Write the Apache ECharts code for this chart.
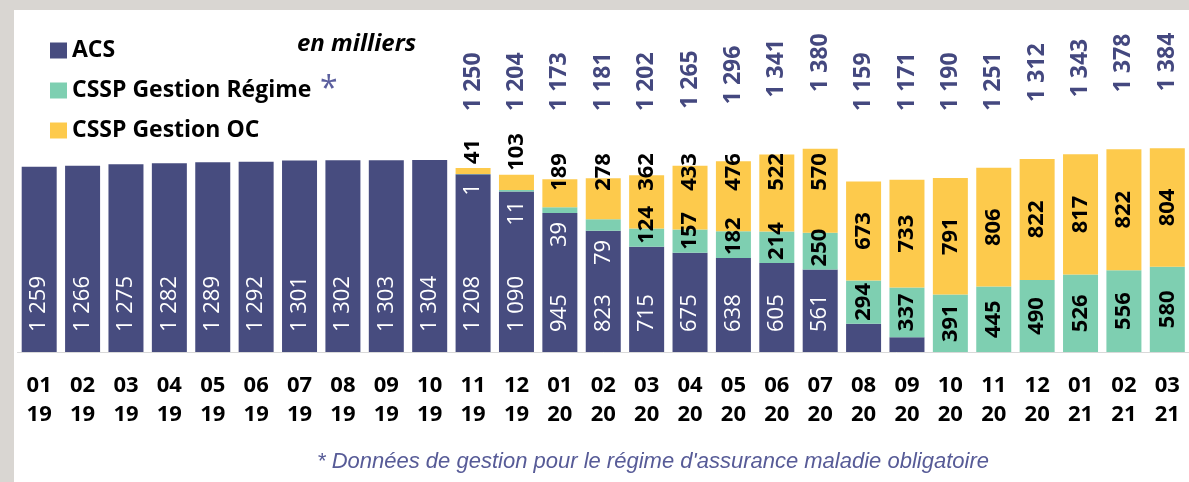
<!DOCTYPE html>
<html>
<head>
<meta charset="utf-8">
<script src="https://cdn.jsdelivr.net/npm/echarts@6/dist/echarts.min.js"></script>
<style>
html, body { margin: 0; padding: 0; background: #d9d6d2; }
#chart { position: absolute; left: 14px; top: 10px; width: 1175px; height: 472px; background: #fff; }
</style>
</head>
<body>
<div id="chart"></div>
<script>
// mois / années
var months = ['01','02','03','04','05','06','07','08','09','10','11','12',
              '01','02','03','04','05','06','07','08','09','10','11','12',
              '01','02','03'];
var years  = ['19','19','19','19','19','19','19','19','19','19','19','19',
              '20','20','20','20','20','20','20','20','20','20','20','20',
              '21','21','21'];

// effectifs en milliers
var acs    = [1259,1266,1275,1282,1289,1292,1301,1302,1303,1304,1208,1090,
              945,823,715,675,638,605,561,192,101,0,0,0,0,0,0];
var regime = [0,0,0,0,0,0,0,0,0,0,1,11,
              39,79,124,157,182,214,250,294,337,391,445,490,526,556,580];
var oc     = [0,0,0,0,0,0,0,0,0,0,41,103,
              189,278,362,433,476,522,570,673,733,791,806,822,817,822,804];
var totals = [null,null,null,null,null,null,null,null,null,null,1250,1204,
              1173,1181,1202,1265,1296,1341,1380,1159,1171,1190,1251,1312,1343,1378,1384];

var categories = months.map(function (m, i) { return m + '\n' + years[i]; });

function fmt(v) {
    if (v >= 1000) return Math.floor(v / 1000) + ' ' + String(v % 1000).padStart(3, '0');
    return String(v);
}

var FONT = '"Open Sans", sans-serif';

var myChart = echarts.init(document.getElementById('chart'));

var option = {
    animation: false,
    color: ['#474c7f', '#7ecfb1', '#fdca4c'],
    legend: {
        data: ['ACS', 'CSSP Gestion Régime', 'CSSP Gestion OC'],
        orient: 'vertical',
        left: 31,
        top: 24,
        icon: 'rect',
        itemWidth: 17,
        itemHeight: 16,
        itemGap: 17,
        selectedMode: false,
        textStyle: { fontSize: 23, fontWeight: 'bold', fontFamily: FONT, color: '#000' }
    },
    grid: { left: 3.5, width: 1174.5, top: 106.5, bottom: 130 },
    xAxis: {
        type: 'category',
        data: categories,
        axisTick: { show: false },
        axisLine: { lineStyle: { color: '#d9d9d9', width: 1 } },
        axisLabel: {
            interval: 0,
            margin: 19,
            fontSize: 22,
            lineHeight: 29,
            fontWeight: 'bold',
            fontFamily: FONT,
            color: '#000'
        }
    },
    yAxis: { type: 'value', min: 0, max: 1600, show: false, splitLine: { show: false } },
    graphic: [
        { type: 'text', left: 283, top: 22,
          style: { text: 'en milliers', fontSize: 24, fontWeight: 'bold', fontStyle: 'italic',
                   fontFamily: FONT, fill: '#000' } },
        { type: 'text', left: 306, top: 64,
          style: { text: '*', fontSize: 32, fontFamily: FONT, fill: '#5b5f9e' } },
        { type: 'text', left: 303, top: 441,
          style: { text: "* Données de gestion pour le régime d'assurance maladie obligatoire",
                   fontSize: 22, fontStyle: 'italic', fontFamily: '"Liberation Sans", Arial, sans-serif',
                   fill: '#575b97' } }
    ],
    series: [
        {
            name: 'ACS',
            type: 'bar',
            stack: 'total',
            barWidth: 35,
            data: acs.map(function (v) {
                return { value: v, label: { show: v > 300 } };
            }),
            label: {
                position: 'insideBottom',
                distance: 20,
                rotate: 90,
                align: 'left',
                verticalAlign: 'middle',
                color: '#fff',
                fontSize: 22,
                fontFamily: FONT,
                formatter: function (p) { return fmt(p.value); }
            }
        },
        {
            name: 'CSSP Gestion Régime',
            type: 'bar',
            stack: 'total',
            data: regime.map(function (v) {
                return { value: v, label: v < 100
                    ? { show: v > 0, color: '#fff', fontWeight: 'normal' }
                    : { show: true } };
            }),
            label: {
                position: 'inside',
                rotate: 90,
                color: '#000',
                fontSize: 22,
                fontWeight: 'bold',
                fontFamily: FONT,
                formatter: function (p) { return fmt(p.value); }
            },
            labelLayout: function (p) {
                var r = p.rect, len = p.labelRect.height;
                var v = regime[p.dataIndex];
                var cy;
                if (v < 100) cy = r.y + r.height + 9 + len / 2;
                else if (r.height < len + 6) cy = r.y + r.height - 3 - len / 2;
                else cy = r.y + r.height / 2;
                return { x: r.x + r.width / 2, y: cy, align: 'center', verticalAlign: 'middle' };
            }
        },
        {
            name: 'CSSP Gestion OC',
            type: 'bar',
            stack: 'total',
            data: oc.map(function (v) {
                return { value: v, label: { show: v > 0 } };
            }),
            label: {
                position: 'inside',
                rotate: 90,
                color: '#000',
                fontSize: 22,
                fontWeight: 'bold',
                fontFamily: FONT,
                formatter: function (p) { return fmt(p.value); }
            },
            labelLayout: function (p) {
                var r = p.rect, len = p.labelRect.height;
                var v = oc[p.dataIndex];
                var cy;
                if (v < 150) cy = r.y - 4 - len / 2;
                else if (v < 600) cy = 162;
                else cy = r.y + r.height / 2;
                return { x: r.x + r.width / 2, y: cy, align: 'center', verticalAlign: 'middle' };
            }
        },
        {
            name: 'Total',
            type: 'scatter',
            symbolSize: 1,
            itemStyle: { color: 'rgba(0,0,0,0)', opacity: 1 },
            z: 5,
            data: totals,
            label: {
                show: true,
                rotate: 90,
                color: '#44487f',
                fontSize: 23,
                fontWeight: 'bold',
                fontFamily: FONT,
                formatter: function (p) { return p.value == null ? '' : fmt(p.value); }
            },
            labelLayout: function (p) {
                var r = p.rect;
                var top = r.y + r.height / 2;
                return { x: r.x + r.width / 2, y: Math.min(101, top - 57),
                         align: 'left', verticalAlign: 'middle' };
            }
        }
    ]
};

myChart.setOption(option);

window.addEventListener('resize', function () {
    myChart.resize();
});
</script>
</body>
</html>
